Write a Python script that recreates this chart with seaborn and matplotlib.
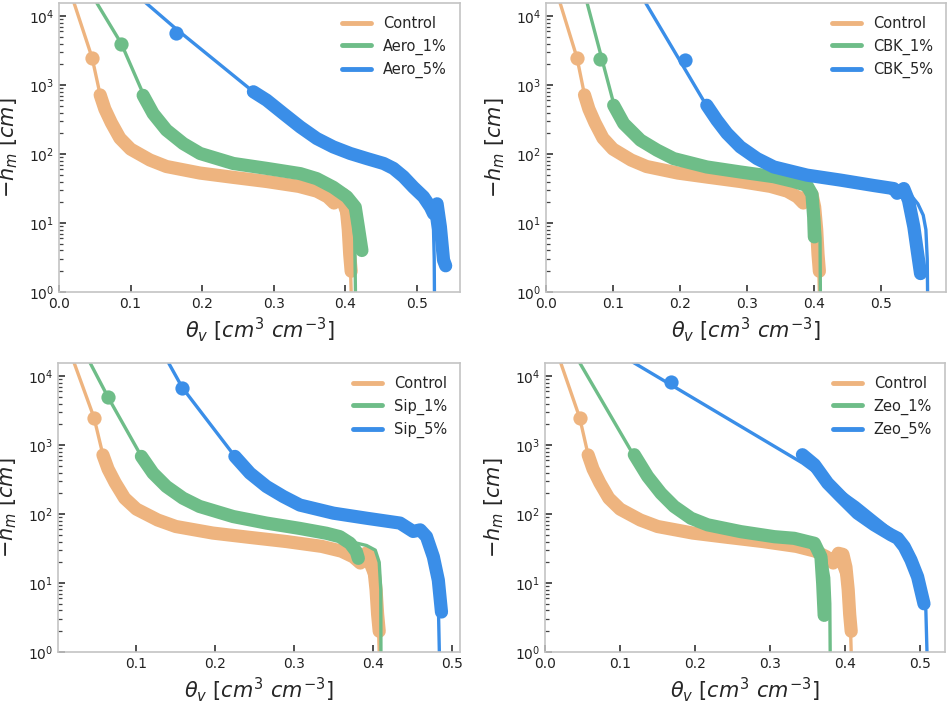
import matplotlib
matplotlib.use("Agg")
import matplotlib.pyplot as plt
from matplotlib.lines import Line2D
import pandas as pd
import seaborn as sns

# Values: (theta_v, -h_m) pairs
# fit = fitted curve, band = dense measured points, pts = isolated measured points
ctrl_fit = [(0.0206, 16000), (0.0462, 2500), (0.0575, 720), (0.064, 450), (0.073, 285),
            (0.085, 170), (0.100, 118), (0.127, 82), (0.150, 66), (0.197, 53), (0.243, 46),
            (0.290, 40), (0.335, 34), (0.360, 29), (0.378, 23), (0.392, 17), (0.400, 10),
            (0.404, 5), (0.407, 2.5), (0.408, 1.0)]
ctrl_band = [(0.0575, 720), (0.064, 450), (0.073, 285), (0.085, 170), (0.100, 118),
             (0.127, 82), (0.150, 66), (0.197, 53), (0.243, 46), (0.290, 40), (0.335, 34),
             (0.360, 29), (0.375, 24), (0.384, 19.5), (0.391, 27), (0.397, 26), (0.401, 17),
             (0.404, 8), (0.406, 3.5), (0.408, 2.0)]
ctrl_pts = [(0.0462, 2500)]

aero1_fit = [(0.052, 16000), (0.087, 4000), (0.1175, 750), (0.1315, 390), (0.150, 225),
             (0.1735, 142), (0.197, 102), (0.2435, 73), (0.290, 62), (0.337, 52), (0.360, 44),
             (0.383, 33), (0.400, 24), (0.410, 14), (0.413, 6), (0.414, 1.0)]
aero1_band = [(0.1175, 710), (0.1315, 386), (0.150, 223), (0.1735, 142), (0.197, 102),
              (0.2435, 73), (0.290, 62), (0.337, 52), (0.360, 44), (0.383, 33), (0.402, 24),
              (0.4137, 17), (0.418, 8.8), (0.423, 4.0)]
aero1_pts = [(0.087, 4000)]

aero5_fit = [(0.120, 16000), (0.163, 6600), (0.2715, 800), (0.290, 605), (0.3134, 386),
             (0.337, 247), (0.360, 168), (0.383, 127), (0.4067, 102), (0.430, 86),
             (0.4534, 73), (0.467, 62), (0.481, 47), (0.495, 33), (0.509, 24), (0.519, 16),
             (0.523, 8), (0.524, 3), (0.5243, 1.0)]
aero5_band = [(0.2715, 800), (0.290, 605), (0.3134, 386), (0.337, 247), (0.360, 168),
              (0.383, 127), (0.4067, 102), (0.430, 86), (0.4534, 73), (0.467, 62),
              (0.481, 47), (0.495, 33), (0.509, 24), (0.5187, 17), (0.523, 13.7),
              (0.528, 19), (0.5326, 8.8), (0.537, 2.9), (0.540, 2.4)]
aero5_pts = [(0.163, 5600)]

cbk1_fit = [(0.061, 16000), (0.080, 3200), (0.101, 540), (0.116, 277), (0.141, 159),
            (0.1657, 114), (0.1905, 86), (0.240, 65), (0.290, 55), (0.340, 47), (0.370, 40),
            (0.390, 34), (0.400, 26), (0.406, 15), (0.409, 6), (0.4095, 1.0)]
cbk1_band = [(0.101, 510), (0.116, 277), (0.141, 159), (0.1657, 114), (0.1905, 86),
             (0.240, 65), (0.290, 55), (0.340, 47), (0.370, 40), (0.3895, 35), (0.397, 26),
             (0.3995, 12.2), (0.4005, 6.3)]
cbk1_pts = [(0.080, 2430)]

cbk5_fit = [(0.148, 16000), (0.2403, 490), (0.255, 310), (0.270, 200), (0.290, 127),
            (0.315, 86), (0.340, 65), (0.3895, 49.5), (0.439, 42), (0.489, 35), (0.519, 31.6),
            (0.534, 30), (0.545, 25), (0.555, 19), (0.563, 13), (0.567, 8), (0.569, 3),
            (0.5695, 1.0)]
cbk5_band = [(0.240, 510), (0.255, 310), (0.270, 200), (0.290, 127), (0.315, 86),
             (0.340, 65), (0.3895, 49.5), (0.439, 42), (0.489, 35), (0.519, 31.6),
             (0.524, 27), (0.534, 31.6), (0.541, 21.4), (0.549, 8.8), (0.554, 4.0),
             (0.559, 1.85)]
cbk5_pts = [(0.208, 2300)]

sip1_fit = [(0.0407, 16000), (0.064, 4950), (0.1063, 686), (0.121, 392), (0.138, 251),
            (0.159, 170), (0.180, 129), (0.2228, 92), (0.265, 74), (0.307, 62), (0.341, 52.7),
            (0.358, 47), (0.371, 40), (0.392, 35), (0.403, 30), (0.408, 20), (0.410, 8),
            (0.4102, 1.0)]
sip1_band = [(0.1063, 686), (0.121, 392), (0.138, 251), (0.159, 170), (0.180, 129),
             (0.2228, 92), (0.265, 74), (0.307, 62), (0.341, 52.7), (0.358, 47),
             (0.371, 37.7), (0.379, 28.5), (0.3815, 22.8)]
sip1_pts = [(0.064, 4950)]

sip5_fit = [(0.1402, 16000), (0.1584, 6760), (0.2249, 686), (0.244, 392), (0.265, 251),
            (0.2862, 180), (0.3074, 135), (0.350, 103), (0.392, 87), (0.4344, 74),
            (0.455, 60), (0.468, 47), (0.4767, 24), (0.481, 11), (0.483, 5), (0.4843, 1.0)]
sip5_band = [(0.2249, 686), (0.244, 392), (0.265, 251), (0.2862, 180), (0.3074, 135),
             (0.350, 103), (0.392, 87), (0.4344, 74), (0.451, 56), (0.460, 59), (0.468, 47),
             (0.4767, 24), (0.483, 11), (0.487, 3.8)]
sip5_pts = [(0.1584, 6760)]

zeo1_fit = [(0.0457, 16000), (0.119, 686), (0.1368, 351), (0.1545, 200), (0.172, 129),
            (0.1945, 87), (0.2167, 69.8), (0.261, 55.6), (0.3055, 47), (0.332, 44.5),
            (0.350, 40), (0.362, 35), (0.373, 25), (0.378, 12), (0.3795, 5), (0.380, 1.0)]
zeo1_band = [(0.119, 725), (0.1368, 351), (0.1545, 200), (0.172, 129), (0.1945, 87),
             (0.2167, 69.8), (0.261, 55.6), (0.3055, 47), (0.332, 44.5), (0.350, 39.8),
             (0.359, 37.7), (0.3677, 24), (0.370, 9.9), (0.372, 3.4)]
zeo1_pts = []

zeo5_fit = [(0.1168, 16000), (0.343, 550), (0.3854, 251), (0.4165, 144), (0.4387, 92),
            (0.461, 59), (0.474, 37.7), (0.4876, 21.6), (0.501, 9.9), (0.5075, 4.0),
            (0.509, 1.0)]
zeo5_band = [(0.343, 725), (0.359, 519), (0.3766, 281), (0.394, 180), (0.4165, 103),
             (0.4387, 69.8), (0.461, 50), (0.470, 44.5), (0.4787, 33.6), (0.4876, 21.6),
             (0.4965, 12.3), (0.505, 5.0)]
zeo5_pts = [(0.168, 8200)]

amendments = ["Aero", "CBK", "Sip", "Zeo"]
x_limits = [(0.0, 0.56), (0.0, 0.597), (0.0005, 0.5105), (0.0, 0.533)]

colors = ["#EEB47F", "#6EBD88", "#3A8EE8"]

series = {
    "Aero": [(aero1_fit, aero1_band, aero1_pts), (aero5_fit, aero5_band, aero5_pts)],
    "CBK": [(cbk1_fit, cbk1_band, cbk1_pts), (cbk5_fit, cbk5_band, cbk5_pts)],
    "Sip": [(sip1_fit, sip1_band, sip1_pts), (sip5_fit, sip5_band, sip5_pts)],
    "Zeo": [(zeo1_fit, zeo1_band, zeo1_pts), (zeo5_fit, zeo5_band, zeo5_pts)],
}


def to_df(pairs):
    return pd.DataFrame(pairs, columns=["theta", "h"])


sns.set_style("white")

fig = plt.figure(figsize=(9.48, 7.01), dpi=100)
axes_rects = [
    [59 / 948, 1 - 292 / 701, 401 / 948, 289 / 701],
    [546 / 948, 1 - 292 / 701, 400 / 948, 289 / 701],
    [58 / 948, 1 - 652 / 701, 402 / 948, 289 / 701],
    [545 / 948, 1 - 652 / 701, 400 / 948, 289 / 701],
]

for rect, name, xlim in zip(axes_rects, amendments, x_limits):
    ax = fig.add_axes(rect)
    groups = [(ctrl_fit, ctrl_band, ctrl_pts)] + series[name]
    labels = ["Control", f"{name}_1%", f"{name}_5%"]

    for (fit, band, pts), color in zip(groups, colors):
        sns.lineplot(data=to_df(band), x="theta", y="h", sort=False, estimator=None,
                     color=color, linewidth=9.5, solid_capstyle="round",
                     solid_joinstyle="round", ax=ax)
        if pts:
            sns.scatterplot(data=to_df(pts), x="theta", y="h", color=color, s=105,
                            linewidth=0, ax=ax)
        sns.lineplot(data=to_df(fit), x="theta", y="h", sort=False, estimator=None,
                     color=color, linewidth=2.4, ax=ax)

    ax.set_yscale("log")
    ax.set_ylim(1, 15500)
    ax.set_xlim(*xlim)
    ax.set_xticks([t for t in [0.0, 0.1, 0.2, 0.3, 0.4, 0.5] if xlim[0] <= t <= xlim[1]])

    ax.set_xlabel(r"$\theta_v\ [cm^3\ cm^{-3}]$", fontsize=15, labelpad=3)
    ax.set_ylabel(r"$-h_m\ [cm]$", fontsize=15, labelpad=6)
    ax.tick_params(axis="both", which="major", direction="in", length=5, width=1.2,
                   color="#333333", labelsize=10, labelcolor="#222222",
                   bottom=True, left=True)
    ax.tick_params(axis="y", which="minor", direction="in", length=3, width=0.9,
                   color="#444444", left=True)
    for spine in ax.spines.values():
        spine.set_color("#c4c4c4")
        spine.set_linewidth(1.2)

    handles = [Line2D([0], [0], color=c, lw=3.5) for c in colors]
    ax.legend(handles, labels, loc="upper right", frameon=False, fontsize=10.5)

fig.savefig("out.png", dpi=100)
